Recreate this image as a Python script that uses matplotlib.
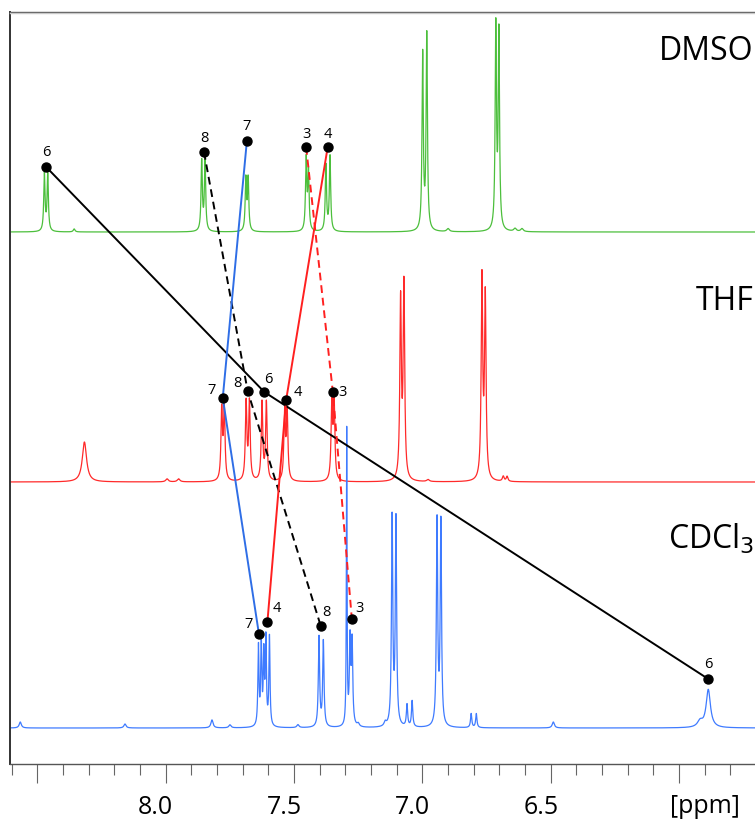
import numpy as np
import matplotlib.pyplot as plt
from matplotlib.transforms import ScaledTranslation
from matplotlib.lines import Line2D

# ---- spectra: peak lists (ppm, height above baseline, half-width) ----
dmso_ppm = [8.473, 8.460, 8.357, 7.860, 7.847, 7.688, 7.679, 7.453, 7.444, 7.376, 7.360,
            6.999, 6.983, 6.900, 6.714, 6.702, 6.639, 6.612]
dmso_height = [57, 57, 3, 70, 70, 52, 52, 72, 58, 66, 75,
               176, 196, 3, 204, 196, 3, 3]
dmso_width = [0.003, 0.003, 0.004, 0.003, 0.003, 0.003, 0.003, 0.003, 0.003, 0.003, 0.003,
              0.003, 0.003, 0.006, 0.003, 0.003, 0.006, 0.006]

thf_ppm = [8.317, 7.995, 7.950, 7.782, 7.772, 7.687, 7.674, 7.625, 7.608, 7.537, 7.527,
           7.353, 7.344, 7.085, 7.072, 6.978, 6.768, 6.755, 6.685, 6.670]
thf_height = [40, 3, 3, 70, 70, 78, 78, 78, 78, 68, 68,
              76, 76, 178, 194, 2, 200, 182, 5, 5]
thf_width = [0.010, 0.006, 0.006, 0.0035, 0.0035, 0.0035, 0.0035, 0.0035, 0.0035, 0.0035, 0.0035,
             0.0035, 0.0035, 0.0035, 0.0035, 0.006, 0.0035, 0.0035, 0.004, 0.004]

cdcl3_ppm = [8.567, 8.159, 7.820, 7.750, 7.639, 7.628, 7.618, 7.610, 7.596, 7.485,
             7.403, 7.386, 7.295, 7.282, 7.274, 7.250, 7.145, 7.118, 7.103, 7.060, 7.040,
             6.943, 6.928, 6.810, 6.790, 6.490, 5.918, 5.886]
cdcl3_height = [6, 4, 8, 3, 80, 82, 70, 85, 90, 3,
                90, 86, 296, 84, 82, 3, 4, 208, 206, 22, 26,
                206, 204, 14, 14, 6, 6, 38]
cdcl3_width = [0.005, 0.005, 0.005, 0.005, 0.0025, 0.0025, 0.0025, 0.0025, 0.0025, 0.005,
               0.003, 0.003, 0.0015, 0.003, 0.003, 0.005, 0.005, 0.003, 0.003, 0.003, 0.003,
               0.003, 0.003, 0.003, 0.003, 0.005, 0.012, 0.010]

# baselines of the stacked traces (vertical offsets, arbitrary units)
baselines = {'DMSO': 532, 'THF': 282, 'CDCl3': 36}

# ---- assignment markers: (label, ppm, intensity level) per solvent ----
sites = ['6', '8', '7', '3', '4']
dmso_mark_ppm = [8.466, 7.851, 7.684, 7.453, 7.369]
dmso_mark_y = [597, 612, 623, 617, 617]
thf_mark_ppm = [7.616, 7.681, 7.778, 7.349, 7.531]
thf_mark_y = [372, 373, 366, 372, 364]
cdcl3_mark_ppm = [5.886, 7.396, 7.637, 7.275, 7.604]
cdcl3_mark_y = [85, 138, 130, 145, 142]

# label offsets (pixels) for each site, per solvent
dmso_lab_off = [(0, 14), (0, 13), (0, 14), (0, 13), (0, 13)]
thf_lab_off = [(4, 13), (-10, 8), (-11, 8), (10, 0), (12, 8)]
cdcl3_lab_off = [(0, 15), (6, 13), (-10, 9), (8, 11), (9, 13)]

link_style = {'6': ('black', '-'), '8': ('black', (0, (4, 2.5))), '7': ('#2f6ee6', '-'),
              '3': ('#ff2020', (0, (4, 2.5))), '4': ('#ff2020', '-')}

ppm_axis = np.linspace(8.62, 5.69, 6000)


def lorentz(x, centers, heights, widths):
    y = np.zeros_like(x)
    for c, h, w in zip(centers, heights, widths):
        y += h / (1.0 + ((x - c) / w) ** 2)
    return y


plt.rcParams['font.family'] = ['Open Sans', 'DejaVu Sans']

fig = plt.figure(figsize=(7.55, 8.21), dpi=100)
ax = fig.add_axes([10 / 755, 57 / 821, 745 / 755, 752 / 821])

traces = [('DMSO', dmso_ppm, dmso_height, dmso_width, '#4cbf3c'),
          ('THF', thf_ppm, thf_height, thf_width, '#ff2a2a'),
          ('CDCl3', cdcl3_ppm, cdcl3_height, cdcl3_width, '#3f7bff')]
for name, p, h, w, col in traces:
    ax.plot(ppm_axis, baselines[name] + lorentz(ppm_axis, p, h, w), color=col, lw=0.9, zorder=2)

# connecting lines across solvents
for i, s in enumerate(sites):
    col, ls = link_style[s]
    ax.plot([dmso_mark_ppm[i], thf_mark_ppm[i], cdcl3_mark_ppm[i]],
            [dmso_mark_y[i], thf_mark_y[i], cdcl3_mark_y[i]],
            color=col, ls=ls, lw=1.4, zorder=3)

for mp, my, offs in [(dmso_mark_ppm, dmso_mark_y, dmso_lab_off),
                     (thf_mark_ppm, thf_mark_y, thf_lab_off),
                     (cdcl3_mark_ppm, cdcl3_mark_y, cdcl3_lab_off)]:
    ax.scatter(mp, my, s=42, color='black', zorder=4)
    for s, x, y, o in zip(sites, mp, my, offs):
        ax.annotate(s, (x, y), xytext=o, textcoords='offset pixels',
                    ha='center', va='center', fontsize=10.5)

# solvent names
ax.text(0.9985, 0.947, 'DMSO', transform=ax.transAxes, ha='right', va='center', fontsize=23)
ax.text(0.9985, 0.615, 'THF', transform=ax.transAxes, ha='right', va='center', fontsize=23)
ax.text(0.9985, 0.299, r'CDCl$_3$', transform=ax.transAxes, ha='right', va='center', fontsize=23)

ax.set_xlim(8.607, 5.704)
ax.set_ylim(0, 752)
ax.set_yticks([])
ax.set_xticks([8.5, 8.0, 7.5, 7.0, 6.5, 6.0])
ax.set_xticklabels(['', '8.0', '7.5', '7.0', '6.5', ''])
ax.set_xticks(np.arange(5.8, 8.61, 0.1), minor=True)
ax.tick_params(axis='x', which='major', direction='out', length=13.5, width=0.8,
               color='#666666', labelsize=18, pad=9)
ax.tick_params(axis='x', which='minor', direction='out', length=8, width=0.8, color='#666666')
for lab in ax.get_xticklabels():
    lab.set_transform(lab.get_transform() + ScaledTranslation(-0.10, 0, fig.dpi_scale_trans))

ax.spines['right'].set_visible(False)
ax.spines['top'].set_color('#555555')
ax.spines['top'].set_linewidth(1.0)
ax.spines['left'].set_color('#333333')
ax.spines['left'].set_linewidth(1.4)
ax.spines['bottom'].set_color('#555555')
ax.spines['bottom'].set_linewidth(1.0)
fig.add_artist(Line2D([10 / 755, 1], [807.5 / 821, 807.5 / 821], color='#c8c8c8', lw=1.0))

fig.text(705 / 755, 1 - 806 / 821, '[ppm]', ha='center', va='center', fontsize=18)

fig.savefig('out.png', dpi=100)
